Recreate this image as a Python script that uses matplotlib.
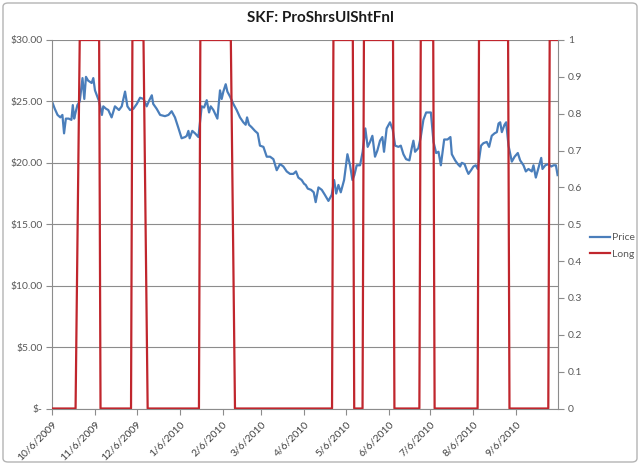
import matplotlib
matplotlib.use("Agg")
import matplotlib.pyplot as plt
from matplotlib.patches import FancyBboxPatch
from matplotlib.ticker import FuncFormatter, MultipleLocator
import pandas as pd

# Price series: days after 10/6/2009 and closing price
price_days = [0, 2, 4, 6, 7.5, 8.7, 10, 12, 14, 15, 16, 17, 18.3, 20, 22, 23.3, 24.5, 26,
              28.6, 29.8, 31, 32, 34, 36, 37, 39, 40.6, 43, 45.4, 48.3, 50.3, 52.7, 54.4,
              56.3, 58.7, 61.2, 63.5, 66, 68.3, 70.2, 72, 73, 75.5, 78, 81.5, 84, 86.3,
              88.7, 91, 93.5, 96, 97.2, 98.4, 99.3, 101.2, 103.2, 105.6, 108, 109.7, 111.6,
              113.3, 114.5, 116.4, 119.3, 121.2, 122.4, 123.6, 125.3, 126.5, 128.4, 130.8,
              133.2, 135.6, 138, 139.7, 140.7, 142.1, 144, 146.4, 148.4, 150, 152.5, 154.9,
              157.3, 159.7, 162.1, 164.5, 166.9, 169.3, 171.7, 174.1, 176, 177.7, 180.1,
              181.8, 183, 184.5, 186.9, 188.8, 190.2, 192.2, 194.6, 196.8, 199.4, 201.8,
              203.5, 205, 206.6, 208.3, 210.7, 213.1, 215, 216.7, 218.1, 219.8, 222.2,
              224.1, 226, 227.7, 229.4, 231.1, 233, 234.7, 236.6, 238.3, 239.5, 241.4,
              243.8, 245.8, 247.5, 249.9, 251.6, 253.5, 255.4, 257.8, 259.5, 260.7, 261.9,
              264.3, 266, 267.9, 269.9, 271.6, 273.3, 275.2, 277.1, 278.8, 280.5, 282.9,
              285.3, 287.4, 288.4, 290.8, 292.7, 294.4, 295.6, 297.6, 299.2, 300.4, 302.3,
              304, 305.7, 307.1, 309.5, 311.2, 313.6, 315.3, 317.2, 319.2, 320.9, 322.1,
              323.3, 324.5, 326.4, 327.6, 329.3, 331.7, 333.7, 336, 337.7, 340.1, 341.8,
              343.7, 346.1, 347.3, 349, 351.4, 352.9, 353.8, 355.8, 358.2, 360.1, 361.8,
              363.5, 364.7]
prices = [25.0, 24.4, 23.9, 23.7, 23.9, 22.4, 23.6, 23.6, 23.5, 24.7, 23.6, 24.1, 24.7, 25.0,
          26.9, 25.2, 27.0, 26.7, 26.5, 26.9, 25.9, 25.6, 25.0, 23.9, 24.6, 24.4, 24.3, 23.7,
          24.6, 24.3, 24.6, 25.8, 24.6, 24.3, 24.4, 24.8, 25.3, 25.2, 24.6, 25.1, 25.5, 24.8,
          24.4, 23.9, 23.8, 23.9, 24.2, 23.7, 22.9, 22.0, 22.1, 22.2, 22.6, 22.0, 22.6, 22.4,
          22.1, 24.6, 24.5, 25.1, 24.1, 24.6, 24.3, 23.6, 25.9, 25.2, 25.8, 26.4, 25.8, 25.4,
          24.8, 24.3, 23.7, 23.3, 23.1, 23.7, 23.1, 22.9, 22.6, 22.4, 21.4, 21.3, 20.5, 20.5,
          20.3, 19.4, 19.9, 19.7, 19.3, 19.1, 19.1, 19.3, 18.8, 18.6, 18.3, 18.2, 17.9, 17.8,
          17.6, 16.8, 18.0, 17.8, 17.4, 16.9, 17.4, 18.6, 17.5, 18.2, 17.6, 18.6, 20.7, 19.8,
          18.6, 19.0, 19.8, 19.8, 20.9, 22.8, 21.3, 21.7, 22.2, 20.5, 21.0, 21.8, 22.1, 20.9,
          22.8, 23.3, 22.7, 21.4, 21.3, 21.4, 20.7, 20.3, 20.2, 21.2, 21.8, 20.9, 21.2, 22.1,
          23.5, 24.1, 24.1, 24.1, 21.7, 20.8, 20.9, 19.8, 21.9, 21.9, 22.1, 20.7, 20.2, 19.9,
          19.7, 20.0, 19.9, 19.4, 19.1, 19.4, 19.7, 19.8, 19.5, 21.4, 21.6, 21.7, 21.3, 22.2,
          22.4, 22.5, 23.2, 23.3, 22.5, 23.1, 23.3, 21.4, 20.1, 20.5, 20.8, 20.2, 19.8, 19.3,
          19.5, 19.3, 19.8, 18.8, 19.8, 20.4, 19.5, 19.8, 19.9, 19.7, 19.8, 19.8, 19.0]

# Long signal (0/1) at days after 10/6/2009
long_days = [0, 17, 20, 34, 35, 57, 58, 66, 69, 106, 107, 129, 132, 202, 203, 217, 218,
             224, 225, 246, 247, 265, 266, 275, 276, 307, 308, 329, 330, 358, 359, 365]
long_vals = [0, 0, 1, 1, 0, 0, 1, 1, 0, 0, 1, 1, 0, 0, 1, 1, 0,
             0, 1, 1, 0, 0, 1, 1, 0, 0, 1, 1, 0, 0, 1, 1]

tick_dates = ["2009-10-06", "2009-11-06", "2009-12-06", "2010-01-06", "2010-02-06",
              "2010-03-06", "2010-04-06", "2010-05-06", "2010-06-06", "2010-07-06",
              "2010-08-06", "2010-09-06"]

start = pd.Timestamp("2009-10-06")
price_x = start + pd.to_timedelta(price_days, unit="D")
long_x = start + pd.to_timedelta(long_days, unit="D")

plt.rcParams['font.family'] = ['Lato', 'DejaVu Sans']
grey_txt = '#595959'
grey_line = '#8c8c8c'
blue = '#4a7ebb'
red = '#c0262d'

fig = plt.figure(figsize=(6.4, 4.65), dpi=100)
W, H = 640, 465
ax = fig.add_axes([52 / W, 1 - 408.5 / H, (558 - 52) / W, (408.5 - 40) / H])
ax2 = ax.twinx()

# chart border
fig.patches.append(FancyBboxPatch((3 / W, 3 / H), 634 / W, 459 / H,
                                  boxstyle="round,pad=0,rounding_size=0.008",
                                  transform=fig.transFigure, facecolor='none',
                                  edgecolor='#b4b4b4', linewidth=1.0))

ln1, = ax.plot(price_x, prices, color=blue, linewidth=1.6, label='Price')
ln2, = ax2.plot(long_x, long_vals, color=red, linewidth=1.6, label='Long')

ax.set_xlim(start, pd.Timestamp("2010-10-06"))
ax.set_ylim(0, 30)
ax2.set_ylim(0, 1)

ax.yaxis.set_major_locator(MultipleLocator(5))
ax.yaxis.set_major_formatter(FuncFormatter(lambda v, p: '$-' if v == 0 else f'${v:.2f}'))
ax2.yaxis.set_major_locator(MultipleLocator(0.1))
ax2.yaxis.set_major_formatter(FuncFormatter(lambda v, p: f'{round(v, 1):g}'))

ticks = pd.to_datetime(tick_dates)
ax.set_xticks(ticks)
ax.set_xticklabels([f'{d.month}/{d.day}/{d.year}' for d in ticks], rotation=45,
                   ha='right', va='top', rotation_mode='anchor')

ax.grid(axis='y', color=grey_line, linewidth=0.8)
ax.set_axisbelow(True)
for a in (ax, ax2):
    a.spines['top'].set_visible(False)
    for s in a.spines.values():
        s.set_color(grey_line)
        s.set_linewidth(0.8)
ax.spines['right'].set_visible(False)
ax2.spines['left'].set_visible(False)
ax2.spines['bottom'].set_visible(False)

ax.tick_params(axis='y', direction='out', length=4, width=0.8, color=grey_line,
               labelsize=7.5, labelcolor=grey_txt, pad=3)
ax.tick_params(axis='x', direction='out', length=4, width=0.8, color=grey_line,
               labelsize=7.5, labelcolor='#404040', pad=4)
ax2.tick_params(axis='y', direction='out', length=4, width=0.8, color=grey_line,
                labelsize=7.5, labelcolor=grey_txt, pad=3)

fig.text(0.5, 1 - 18.5 / H, 'SKF: ProShrsUlShtFnl', ha='center', va='center',
         fontsize=11, fontweight='bold', color='#1a1a1a')

fig.legend(handles=[ln1, ln2], loc='center left', bbox_to_anchor=(583 / W, 1 - 246 / H),
           frameon=False, fontsize=7.5, handlelength=1.9, handletextpad=0.15,
           borderpad=0.2, labelspacing=0.7, labelcolor=grey_txt)

fig.savefig('out.png', dpi=100)
